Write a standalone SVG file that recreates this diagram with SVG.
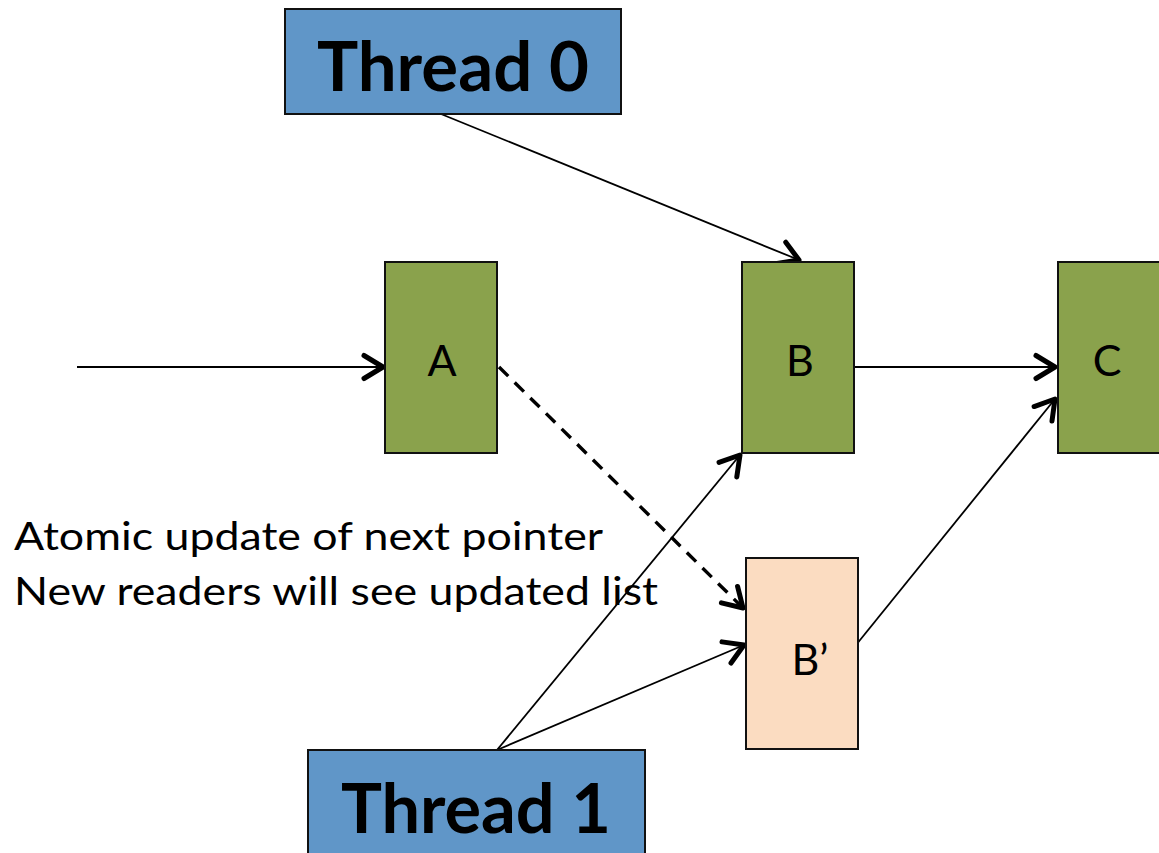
<svg xmlns="http://www.w3.org/2000/svg" width="1159" height="853" viewBox="0 0 1159 853">
  <style>
    .thread rect { fill: #6096C8; stroke: #111; stroke-width: 2; }
    .thread text { font-family: "Lato", "Open Sans", sans-serif; font-weight: bold; font-size: 68px; fill: #000; text-anchor: middle; }
    .node rect { fill: #8AA24C; stroke: #111; stroke-width: 2; }
    .node.new rect { fill: #FBDCC1; }
    .node text { font-family: "Lato", "Open Sans", sans-serif; font-size: 43px; fill: #000; text-anchor: middle; }
    .note { font-family: "Lato", "Open Sans", sans-serif; font-size: 39px; fill: #000; }
    .link { stroke: #000; stroke-width: 1.8; fill: none; marker-end: url(#open); }
    .dashed { stroke-width: 3.4; stroke-dasharray: 13 9; }
  </style>
  <defs>
    <!-- open chevron arrowhead, fixed size regardless of line width -->
    <marker id="open" markerUnits="userSpaceOnUse" markerWidth="32" markerHeight="32" viewBox="0 0 32 32" refX="23" refY="16" orient="auto">
      <path d="M4,4.5 L23,16 L4,27.5" fill="none" stroke="#000" stroke-width="5" stroke-linecap="round" stroke-linejoin="round"/>
    </marker>
  </defs>

  <rect width="1159" height="853" fill="#fff"/>

  <!-- connectors -->
  <g id="connectors">
    <line class="link" x1="77" y1="367" x2="383" y2="367"/>
    <line class="link" x1="441" y1="114" x2="799" y2="260"/>
    <line class="link" x1="854" y1="367" x2="1055" y2="367"/>
    <line class="link dashed" x1="499" y1="367" x2="743" y2="608"/>
    <line class="link" x1="856" y1="645" x2="1055" y2="399"/>
    <line class="link" x1="497" y1="750" x2="740" y2="455"/>
    <line class="link" x1="497" y1="750" x2="744" y2="645"/>
  </g>

  <!-- thread boxes -->
  <g id="thread0" class="thread">
    <rect x="285" y="9" width="336" height="105"/>
    <text x="453" y="91" textLength="272" lengthAdjust="spacingAndGlyphs">Thread 0</text>
  </g>
  <g id="thread1" class="thread">
    <rect x="308" y="750" width="337" height="110"/>
    <text x="476" y="833" textLength="270" lengthAdjust="spacingAndGlyphs">Thread 1</text>
  </g>

  <!-- list nodes -->
  <g id="nodeA" class="node">
    <rect x="385" y="262" width="112" height="191"/>
    <text x="442" y="376">A</text>
  </g>
  <g id="nodeB" class="node">
    <rect x="742" y="262" width="112" height="191"/>
    <text x="800" y="376">B</text>
  </g>
  <g id="nodeC" class="node">
    <rect x="1058" y="262" width="112" height="191"/>
    <text x="1107" y="376">C</text>
  </g>
  <g id="nodeBprime" class="node new">
    <rect x="746" y="558" width="112" height="191"/>
    <text x="810" y="675">B’</text>
  </g>

  <!-- caption -->
  <g id="caption">
    <text class="note" x="14" y="550" textLength="589" lengthAdjust="spacingAndGlyphs">Atomic update of next pointer</text>
    <text class="note" x="14" y="605" textLength="644" lengthAdjust="spacingAndGlyphs">New readers will see updated list</text>
  </g>
</svg>
